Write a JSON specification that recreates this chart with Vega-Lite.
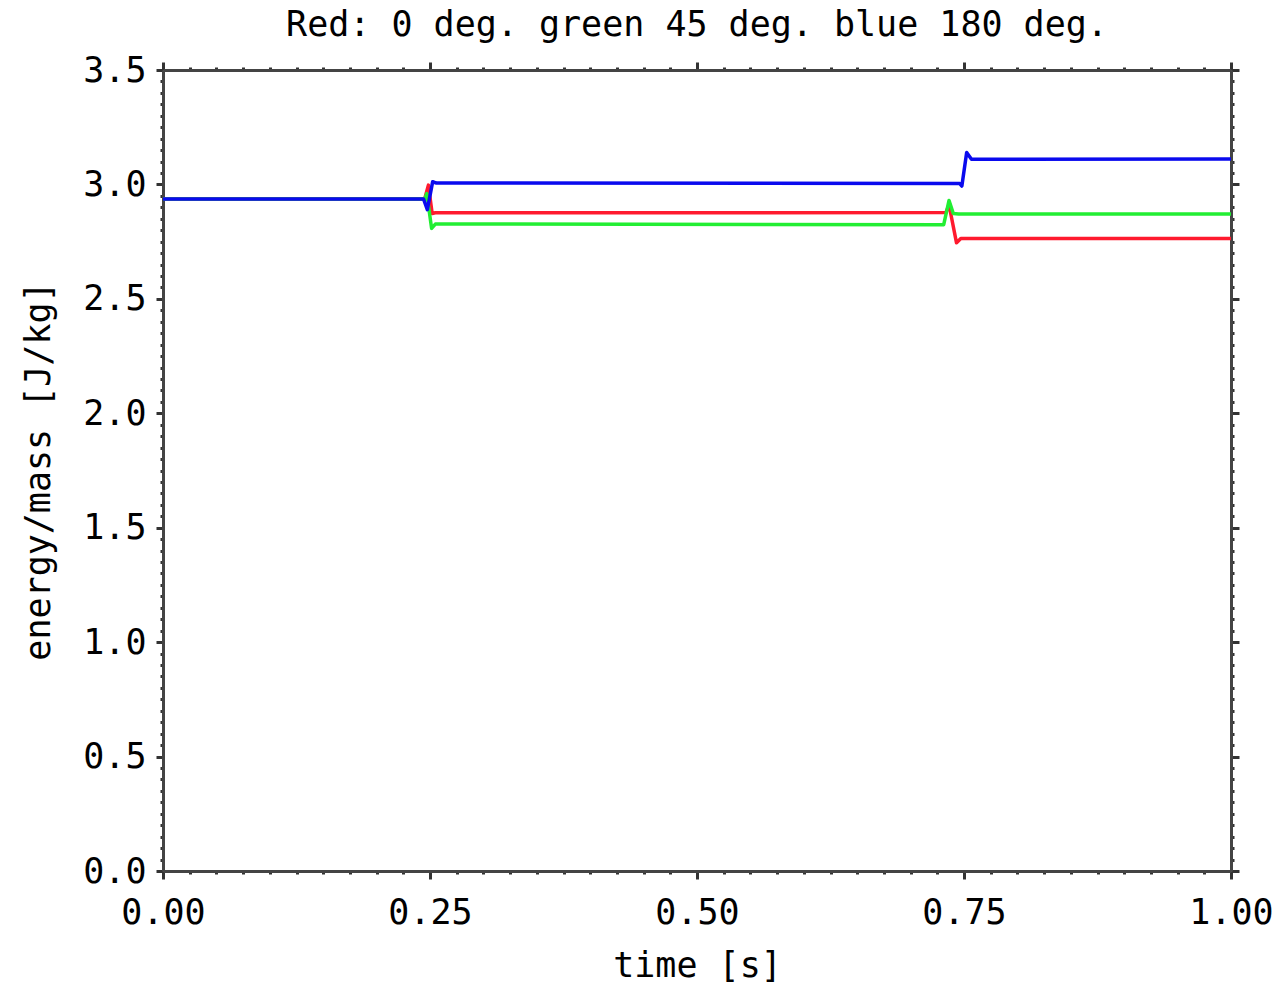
{
  "$schema": "https://vega.github.io/schema/vega-lite/v6.json",
  "autosize": "none",
  "width": 1068,
  "height": 801,
  "padding": {"left": 163, "top": 70, "right": 50, "bottom": 113},
  "background": "white",
  "title": {
    "text": "Red: 0 deg. green 45 deg. blue 180 deg.",
    "font": "DejaVu Sans Mono",
    "fontSize": 35,
    "fontWeight": "normal",
    "color": "black",
    "offset": 10,
    "anchor": "middle"
  },
  "config": {
    "view": {"stroke": null},
    "axis": {
      "labelFont": "DejaVu Sans Mono",
      "labelFontSize": 35,
      "labelColor": "black",
      "titleFont": "DejaVu Sans Mono",
      "titleFontSize": 35,
      "titleFontWeight": "normal",
      "titleColor": "black",
      "domainColor": "#444444",
      "domainWidth": 3,
      "tickColor": "#333333",
      "tickWidth": 3,
      "grid": false
    }
  },
  "data": {
    "values": [
      {"s": "red", "o": 1, "t": 0.0, "e": 2.936},
      {"s": "red", "o": 2, "t": 0.245, "e": 2.936},
      {"s": "red", "o": 3, "t": 0.2485, "e": 2.997},
      {"s": "red", "o": 4, "t": 0.252, "e": 2.873},
      {"s": "red", "o": 5, "t": 0.255, "e": 2.876},
      {"s": "red", "o": 6, "t": 0.733, "e": 2.877},
      {"s": "red", "o": 7, "t": 0.736, "e": 2.91},
      {"s": "red", "o": 8, "t": 0.743, "e": 2.745},
      {"s": "red", "o": 9, "t": 0.747, "e": 2.764},
      {"s": "red", "o": 10, "t": 1.0, "e": 2.764},
      {"s": "green", "o": 1, "t": 0.0, "e": 2.936},
      {"s": "green", "o": 2, "t": 0.245, "e": 2.936},
      {"s": "green", "o": 3, "t": 0.247, "e": 2.96},
      {"s": "green", "o": 4, "t": 0.2515, "e": 2.808},
      {"s": "green", "o": 5, "t": 0.255, "e": 2.827},
      {"s": "green", "o": 6, "t": 0.731, "e": 2.824},
      {"s": "green", "o": 7, "t": 0.736, "e": 2.93},
      {"s": "green", "o": 8, "t": 0.74, "e": 2.873},
      {"s": "green", "o": 9, "t": 0.745, "e": 2.871},
      {"s": "green", "o": 10, "t": 1.0, "e": 2.871},
      {"s": "blue", "o": 1, "t": 0.0, "e": 2.936},
      {"s": "blue", "o": 2, "t": 0.244, "e": 2.936},
      {"s": "blue", "o": 3, "t": 0.2475, "e": 2.89},
      {"s": "blue", "o": 4, "t": 0.2525, "e": 3.012},
      {"s": "blue", "o": 5, "t": 0.256, "e": 3.006},
      {"s": "blue", "o": 6, "t": 0.746, "e": 3.004},
      {"s": "blue", "o": 7, "t": 0.748, "e": 2.993},
      {"s": "blue", "o": 8, "t": 0.7525, "e": 3.14},
      {"s": "blue", "o": 9, "t": 0.757, "e": 3.11},
      {"s": "blue", "o": 10, "t": 1.0, "e": 3.111}
    ]
  },
  "layer": [
    {
      "mark": {"type": "line", "strokeWidth": 3.5, "clip": true, "strokeJoin": "round"},
      "encoding": {
        "x": {
          "field": "t", "type": "quantitative",
          "scale": {"domain": [0, 1], "nice": false, "zero": false},
          "axis": {
            "orient": "bottom",
            "title": "time [s]",
            "titlePadding": 18,
            "values": [0,0.025,0.05,0.075,0.1,0.125,0.15,0.175,0.2,0.225,0.25,0.275,0.3,0.325,0.35,0.375,0.4,0.425,0.45,0.475,0.5,0.525,0.55,0.575,0.6,0.625,0.65,0.675,0.7,0.725,0.75,0.775,0.8,0.825,0.85,0.875,0.9,0.925,0.95,0.975,1],
            "tickSize": {"condition": {"test": "abs(datum.value*4 - round(datum.value*4)) < 0.000001", "value": 8}, "value": 3},
            "labelExpr": "abs(datum.value*4 - round(datum.value*4)) < 0.000001 ? format(datum.value, '.2f') : ''",
            "labelPadding": 16,
            "labelOverlap": false,
            "labelFlush": false
          }
        },
        "y": {
          "field": "e", "type": "quantitative",
          "scale": {"domain": [0, 3.5], "nice": false, "zero": false},
          "axis": {
            "orient": "left",
            "title": "energy/mass [J/kg]",
            "titlePadding": 26,
            "values": [0,0.05,0.1,0.15,0.2,0.25,0.3,0.35,0.4,0.45,0.5,0.55,0.6,0.65,0.7,0.75,0.8,0.85,0.9,0.95,1,1.05,1.1,1.15,1.2,1.25,1.3,1.35,1.4,1.45,1.5,1.55,1.6,1.65,1.7,1.75,1.8,1.85,1.9,1.95,2,2.05,2.1,2.15,2.2,2.25,2.3,2.35,2.4,2.45,2.5,2.55,2.6,2.65,2.7,2.75,2.8,2.85,2.9,2.95,3,3.05,3.1,3.15,3.2,3.25,3.3,3.35,3.4,3.45,3.5],
            "tickSize": {"condition": {"test": "abs(datum.value*2 - round(datum.value*2)) < 0.000001", "value": 7}, "value": 3},
            "labelExpr": "abs(datum.value*2 - round(datum.value*2)) < 0.000001 ? format(datum.value, '.1f') : ''",
            "labelPadding": 10,
            "labelOverlap": false,
            "labelFlush": false
          }
        },
        "color": {
          "field": "s", "type": "nominal",
          "scale": {"domain": ["red", "green", "blue"], "range": ["#ff1a2e", "#22ee33", "#0a0aee"]},
          "legend": null
        },
        "order": {"field": "o", "type": "quantitative"}
      }
    },
    {
      "mark": {"type": "line", "opacity": 0},
      "encoding": {
        "x": {
          "field": "t", "type": "quantitative",
          "scale": {"domain": [0, 1], "nice": false, "zero": false},
          "axis": {
            "orient": "top",
            "title": null,
            "values": [0,0.025,0.05,0.075,0.1,0.125,0.15,0.175,0.2,0.225,0.25,0.275,0.3,0.325,0.35,0.375,0.4,0.425,0.45,0.475,0.5,0.525,0.55,0.575,0.6,0.625,0.65,0.675,0.7,0.725,0.75,0.775,0.8,0.825,0.85,0.875,0.9,0.925,0.95,0.975,1],
            "tickSize": {"condition": {"test": "abs(datum.value*4 - round(datum.value*4)) < 0.000001", "value": 8}, "value": 3},
            "labels": false
          }
        },
        "y": {
          "field": "e", "type": "quantitative",
          "scale": {"domain": [0, 3.5], "nice": false, "zero": false},
          "axis": {
            "orient": "right",
            "title": null,
            "values": [0,0.05,0.1,0.15,0.2,0.25,0.3,0.35,0.4,0.45,0.5,0.55,0.6,0.65,0.7,0.75,0.8,0.85,0.9,0.95,1,1.05,1.1,1.15,1.2,1.25,1.3,1.35,1.4,1.45,1.5,1.55,1.6,1.65,1.7,1.75,1.8,1.85,1.9,1.95,2,2.05,2.1,2.15,2.2,2.25,2.3,2.35,2.4,2.45,2.5,2.55,2.6,2.65,2.7,2.75,2.8,2.85,2.9,2.95,3,3.05,3.1,3.15,3.2,3.25,3.3,3.35,3.4,3.45,3.5],
            "tickSize": {"condition": {"test": "abs(datum.value*2 - round(datum.value*2)) < 0.000001", "value": 8}, "value": 3},
            "labels": false
          }
        },
        "detail": {"field": "s", "type": "nominal"},
        "order": {"field": "o", "type": "quantitative"}
      }
    }
  ],
  "resolve": {"scale": {"x": "independent", "y": "independent"}, "axis": {"x": "independent", "y": "independent"}}
}
